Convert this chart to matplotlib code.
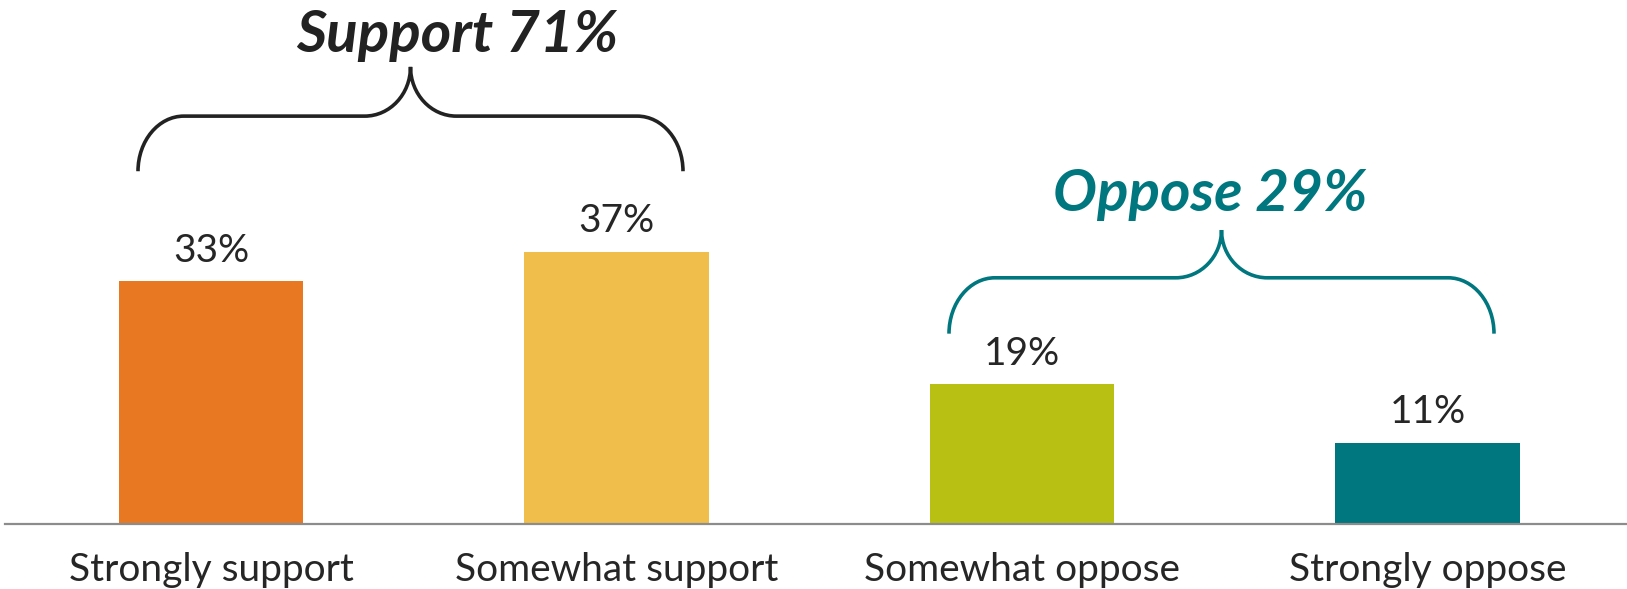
import numpy as np
import matplotlib.pyplot as plt
from matplotlib.path import Path
from matplotlib.patches import PathPatch

plt.rcParams['font.family'] = ['Lato', 'DejaVu Sans']

categories = ["Strongly support", "Somewhat support", "Somewhat oppose", "Strongly oppose"]
values = [33, 37, 19, 11]
colors = ["#E87821", "#F0BE4A", "#B8C113", "#00767E"]
group_labels = ["Support 71%", "Oppose 29%"]
group_members = [(0, 1), (2, 3)]
group_colors = ["#222222", "#00767E"]

text_col = "#262626"

fig = plt.figure(figsize=(16.27, 5.89), dpi=100)
ax = fig.add_axes([5 / 1627, 65 / 589, 1622 / 1627, 524 / 589])

x = np.arange(len(categories))
ax.bar(x, values, width=0.455, color=colors)
for xi, v in zip(x, values):
    ax.text(xi, v + 2.7, f"{v}%", ha="center", va="baseline", fontsize=28, color=text_col)

ax.set_xlim(-0.508, 3.492)
ax.set_ylim(0, 71.3)
ax.set_xticks(x)
ax.set_xticklabels(categories, fontsize=28, color=text_col)
ax.tick_params(axis="x", length=0, pad=20)
ax.set_yticks([])
for s in ["top", "left", "right"]:
    ax.spines[s].set_visible(False)
ax.spines["bottom"].set_color("#8C8C8C")
ax.spines["bottom"].set_linewidth(1.6)


def brace(ax, left, right, yb, yh, yt, color):
    c = (left + right) / 2
    dx = 0.113
    k = 0.5523
    verts = [
        (left, yb),
        (left, yb + k * (yh - yb)), (left + dx * (1 - k), yh), (left + dx, yh),
        (c - dx, yh),
        (c - dx * (1 - k), yh), (c, yt - k * (yt - yh)), (c, yt),
        (c, yt - k * (yt - yh)), (c + dx * (1 - k), yh), (c + dx, yh),
        (right - dx, yh),
        (right - dx * (1 - k), yh), (right, yb + k * (yh - yb)), (right, yb),
    ]
    codes = [Path.MOVETO] + [Path.CURVE4] * 3 + [Path.LINETO] + [Path.CURVE4] * 6 \
        + [Path.LINETO] + [Path.CURVE4] * 3
    ax.add_patch(PathPatch(Path(verts, codes), fill=False, edgecolor=color,
                           linewidth=2.6, capstyle="butt", clip_on=False))
    return c


# brace levels (bottom ends, horizontal, tip) and title offsets for each group
levels = [(48.0, 55.5, 62.2), (25.9, 33.5, 40.0)]
title_pos = [(0.607, 64.2), (2.464, 42.6)]
for (i, j), lab, col, (yb, yh, yt), (tx, ty) in zip(group_members, group_labels,
                                                    group_colors, levels, title_pos):
    brace(ax, x[i] - 0.18, x[j] + 0.164, yb, yh, yt, col)
    ax.text(tx, ty, lab, ha="center", va="baseline", fontsize=42,
            fontweight="bold", fontstyle="italic", color=col)

fig.savefig("out.png", dpi=100)
